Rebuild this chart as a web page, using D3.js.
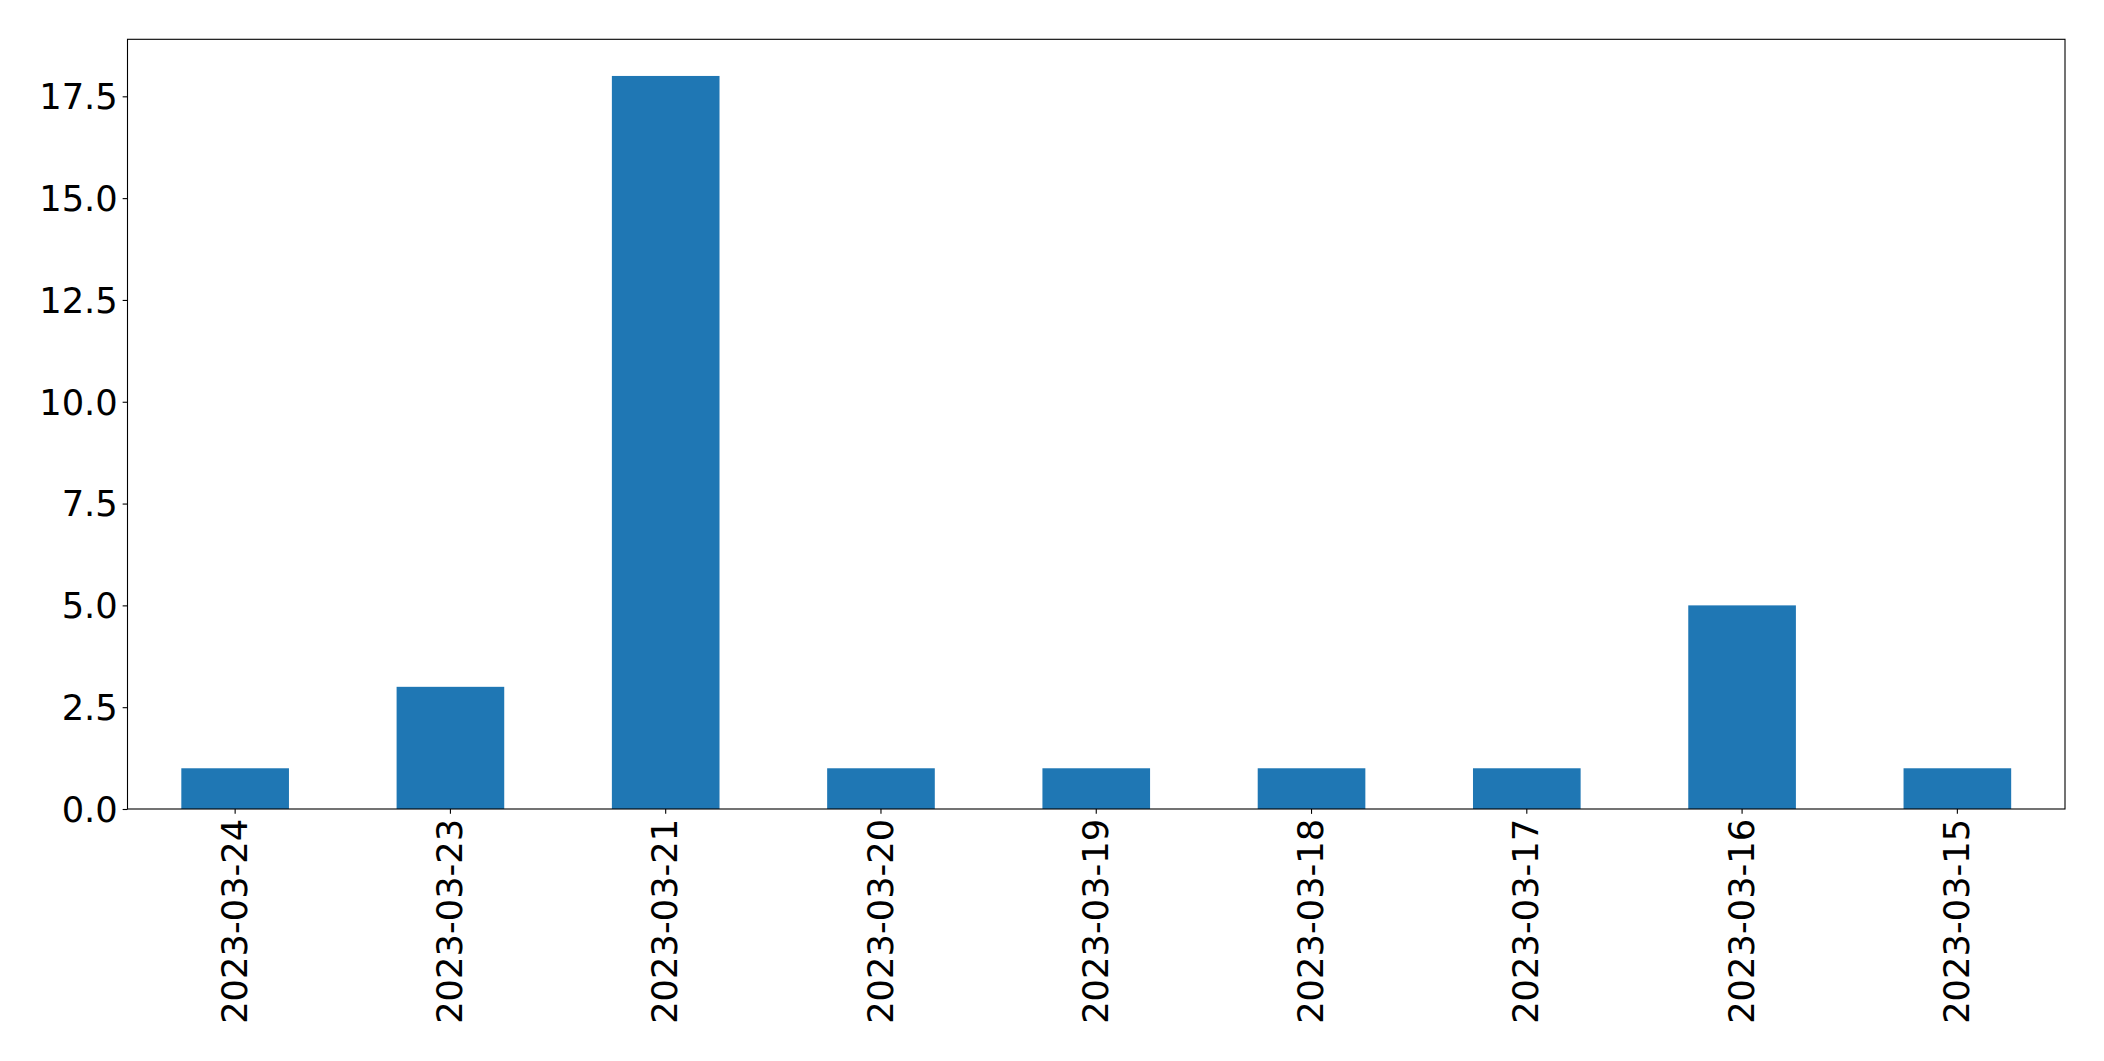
<!DOCTYPE html>
<html>
<head>
<meta charset="utf-8">
<script src="https://cdn.jsdelivr.net/npm/d3@7"></script>
<style>
  html, body { margin: 0; padding: 0; background: #fff; }
  svg { display: block; }
</style>
</head>
<body>
<script>
const categories = ["2023-03-24","2023-03-23","2023-03-21","2023-03-20","2023-03-19","2023-03-18","2023-03-17","2023-03-16","2023-03-15"];
const values = [1, 3, 18, 1, 1, 1, 1, 5, 1];
const yTicks = [0, 2.5, 5, 7.5, 10, 12.5, 15, 17.5];

const W = 2104, H = 1061;
const mLeft = 127.5, mRight = 2065, mTop = 39.3, mBottom = 809;
const fontSize = 35.3;
const tickLen = 4.86, tickPad = 4.86;

const svg = d3.select("body").append("svg").attr("width", W).attr("height", H)
  .style("font-family", "'DejaVu Sans', sans-serif");

const x = d3.scaleBand().domain(categories).range([mLeft, mRight]).paddingInner(0.5).paddingOuter(0.25);
const yMax = d3.max(values) * 1.05;
const y = d3.scaleLinear().domain([0, yMax]).range([mBottom, mTop]);

svg.append("g").selectAll("rect").data(values).join("rect")
  .attr("x", (d, i) => x(categories[i]))
  .attr("y", d => y(d))
  .attr("width", x.bandwidth())
  .attr("height", d => y(0) - y(d))
  .attr("fill", "#1f77b4");

// Y axis
const yAxis = svg.append("g").attr("transform", `translate(${mLeft},0)`)
  .call(d3.axisLeft(y).tickValues(yTicks).tickFormat(d3.format(".1f")).tickSize(tickLen).tickPadding(tickPad));
yAxis.select(".domain").remove();
yAxis.selectAll("line").attr("stroke", "#000").attr("stroke-width", 1.1);
yAxis.selectAll("text").attr("font-size", fontSize).attr("fill", "#000")
  .attr("font-family", "'DejaVu Sans', sans-serif").attr("dy", "0.35em");

// X axis
const xAxis = svg.append("g").attr("transform", `translate(0,${mBottom})`)
  .call(d3.axisBottom(x).tickSize(tickLen).tickPadding(tickPad));
xAxis.select(".domain").remove();
xAxis.selectAll("line").attr("stroke", "#000").attr("stroke-width", 1.1);
xAxis.selectAll("text")
  .attr("font-size", fontSize).attr("fill", "#000")
  .attr("font-family", "'DejaVu Sans', sans-serif")
  .attr("text-anchor", "end")
  .attr("transform", `translate(0,${tickLen + tickPad}) rotate(-90)`)
  .attr("x", 0).attr("y", 0).attr("dy", "0.33em");

// Frame
svg.append("rect").attr("x", mLeft).attr("y", mTop)
  .attr("width", mRight - mLeft).attr("height", mBottom - mTop)
  .attr("fill", "none").attr("stroke", "#000").attr("stroke-width", 1.1);
</script>
</body>
</html>
